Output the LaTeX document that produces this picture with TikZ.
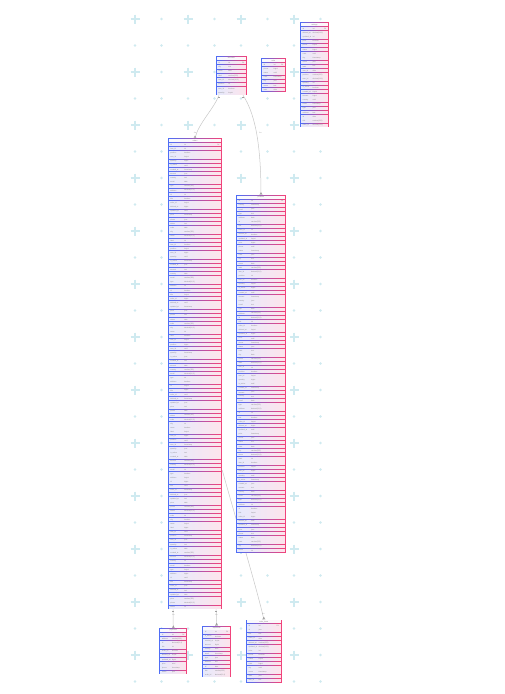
\documentclass[tikz,border=0pt]{standalone}
\usepackage{fontspec}
\setmainfont{Liberation Sans}
\usetikzlibrary{calc}
\definecolor{blueC}{HTML}{4F6DF5}
\definecolor{pinkC}{HTML}{F0447C}
\definecolor{gridC}{HTML}{CFEAF0}
\definecolor{lineC}{HTML}{C8C8C8}
\definecolor{txtC}{HTML}{8A8A8A}
\pgfdeclarelayer{bg}
\pgfdeclarelayer{lines}
\pgfsetlayers{bg,lines,main}
\newcommand\colname[1]{\ifcase#1 id\or name\or email\or status\or created\_at\or updated\_at\or user\_id\or title\or label\or type\or code\or amount\or price\or quantity\or order\_id\or item\_id\or address\or city\or country\or phone\or is\_active\or deleted\_at\or position\else note\fi}
\newcommand\coltype[1]{\ifcase#1 int\or varchar(255)\or text\or timestamp\or bigint\or boolean\or decimal(10,2)\or date\or json\or uuid\or tinyint\else int\fi}
\newcommand\dbtable[8]{%
  \pgfmathsetmacro\tR{#2+#4}%
  \pgfmathsetmacro\tB{#3+#5}%
  \pgfmathsetmacro\rh{#5/#6}%
  \pgfmathsetmacro\sw{#4/16}%
  \pgfmathsetmacro\tx{#2+max(0.3*#4,12.5)}%
  \pgfmathtruncatemacro\nsep{#6-1}%
  \pgfmathtruncatemacro\nlast{#6-2}%
  \node[tblbox, minimum width=#4pt, minimum height=#5pt, anchor=north west] (#1) at (#2,#3) {};
  \foreach \s in {0,...,15}{%
    \pgfmathtruncatemacro\pc{100-\s*100/15}%
    \fill[blueC!\pc!pinkC] (#2+\s*\sw,#3) rectangle (#2+\s*\sw+\sw+0.08,\tB);
  }%
  \fill[headfill] (#2+1.1,#3+0.8) rectangle (\tR-1.1,#3+\rh-0.4);
  \foreach \k in {1,...,\nlast}{\fill[rowfill] (#2+1.1,#3+\k*\rh+0.4) rectangle (\tR-1.1,#3+\k*\rh+\rh-0.4);}
  \fill[rowfill] (#2+1.1,#3+\nsep*\rh+0.4) rectangle (\tR-1.1,\tB-0.8);
  \node[titletxt] (#1-title) at (#2+#4/2,#3+0.5*\rh+0.2) {#7};
  \node[rowtxt,anchor=west] (#1-pk) at (#2+2.5,#3+1.5*\rh) {id};
  \node[rowtxt,anchor=west] (#1-pkt) at (\tx,#3+1.5*\rh) {int};
  \node[rowtxt,anchor=east] (#1-pkk) at (\tR-2.5,#3+1.5*\rh) {PK};
  \foreach \k in {2,...,\nsep}{%
    \pgfmathtruncatemacro\ma{mod(\k*7+#8,23)}%
    \pgfmathtruncatemacro\mb{mod(\k*5+#8,11)}%
    \node[rowtxt,anchor=west] (#1-n\k) at (#2+2.5,#3+\k*\rh+0.5*\rh) {\colname{\ma}};
    \node[rowtxt,anchor=west] (#1-t\k) at (\tx,#3+\k*\rh+0.5*\rh) {\coltype{\mb}};
  }%
}
\newcommand\crowfoot[1]{\draw[mk] ([yshift=2.6pt]#1) -- ([xshift=-1.3pt]#1) ([yshift=2.6pt]#1) -- (#1) ([yshift=2.6pt]#1) -- ([xshift=1.3pt]#1);}
\begin{document}
\begin{tikzpicture}[x=1pt,y=-1pt,
  tblbox/.style={draw=none, fill=none, inner sep=0pt, outer sep=0pt},
  headfill/.style={fill=white, fill opacity=0.96},
  rowfill/.style={fill=white, fill opacity=0.86},
  rowtxt/.style={text=txtC, font=\fontsize{1.7}{2}\selectfont, inner sep=0pt},
  titletxt/.style={text=txtC!90!black, font=\fontsize{1.7}{2}\selectfont, inner sep=0pt},
  lbl/.style={text=txtC, font=\fontsize{1.7}{2}\selectfont, inner sep=0.3pt},
  conn/.style={draw=lineC, line width=0.5pt},
  mk/.style={draw=gray!75, line width=0.4pt},
  gcross/.style={draw=gridC, line width=1.7pt},
  gdot/.style={fill=gridC}]
\useasboundingbox (0,0) rectangle (504,694);
\begin{pgfonlayer}{bg}
  \fill[white] (0,0) rectangle (504,694);
  \foreach \i in {0,...,7}{
    \foreach \j in {0,...,25}{
      \pgfmathsetmacro\gx{135+26.5*\i}
      \pgfmathsetmacro\gy{19+26.5*\j}
      \pgfmathtruncatemacro\ev{mod(\i,2)+mod(\j,2)}
      \ifnum\ev=0
        \draw[gcross] (\gx-4.5,\gy) -- (\gx+4.5,\gy) (\gx,\gy-4.5) -- (\gx,\gy+4.5);
      \else
        \fill[gdot] (\gx,\gy) circle (1.3);
      \fi
    }
  }
\end{pgfonlayer}

\dbtable{A}{215.7}{56}{31.3}{39.3}{9}{accounts}{3}
\dbtable{B}{261}{58.3}{25}{33.7}{8}{roles}{5}
\dbtable{C}{300}{22.3}{29}{105}{25}{settings}{7}
\dbtable{D}{167.7}{138.3}{54.6}{471}{113}{orders}{1}
\dbtable{E}{236}{195}{50}{357.5}{86}{products}{4}
\dbtable{F}{159.3}{628.3}{28}{46}{11}{payments}{2}
\dbtable{G}{202.3}{625.7}{28.7}{51.6}{12}{shipments}{6}
\dbtable{H}{246}{619.5}{35.7}{63}{15}{order\_items}{9}

\begin{pgfonlayer}{lines}
  \draw[conn] ([xshift=3.3pt]A.south west) .. controls (213,110) and (198,124) .. (D.north);
  \draw[conn] ([xshift=-4pt]A.south east) .. controls (254,112) and (261,140) .. (E.north);
  \draw[conn] ([xshift=5.3pt]D.south west) -- (F.north);
  \draw[conn] ([xshift=48.5pt]D.south west) -- (G.north);
  \draw[conn] ([yshift=-332pt]D.north east) .. controls (236,520) and (256,585) .. (H.north);
\end{pgfonlayer}

\node[lbl] (l1) at (195,133) {1:n};
\node[lbl] (l2) at (260.5,133) {1:n};
\node[lbl] (l3) at (173.5,614.5) {1:n};
\node[lbl] (l4) at (216.3,614.5) {1:n};
\node[lbl] (l5) at (263.3,614) {1:n};

\crowfoot{D.north}
\crowfoot{E.north}
\crowfoot{F.north}
\crowfoot{G.north}
\crowfoot{H.north}
\draw[mk] ([xshift=2.3pt,yshift=-1.4pt]A.south west) -- ([xshift=4.3pt,yshift=-1.4pt]A.south west);
\draw[mk] ([xshift=-5pt,yshift=-1.4pt]A.south east) -- ([xshift=-3pt,yshift=-1.4pt]A.south east);
\draw[mk] ([xshift=4.3pt,yshift=-1.4pt]D.south west) -- ([xshift=6.3pt,yshift=-1.4pt]D.south west);
\draw[mk] ([xshift=47.5pt,yshift=-1.4pt]D.south west) -- ([xshift=49.5pt,yshift=-1.4pt]D.south west);
\end{tikzpicture}
\end{document}
